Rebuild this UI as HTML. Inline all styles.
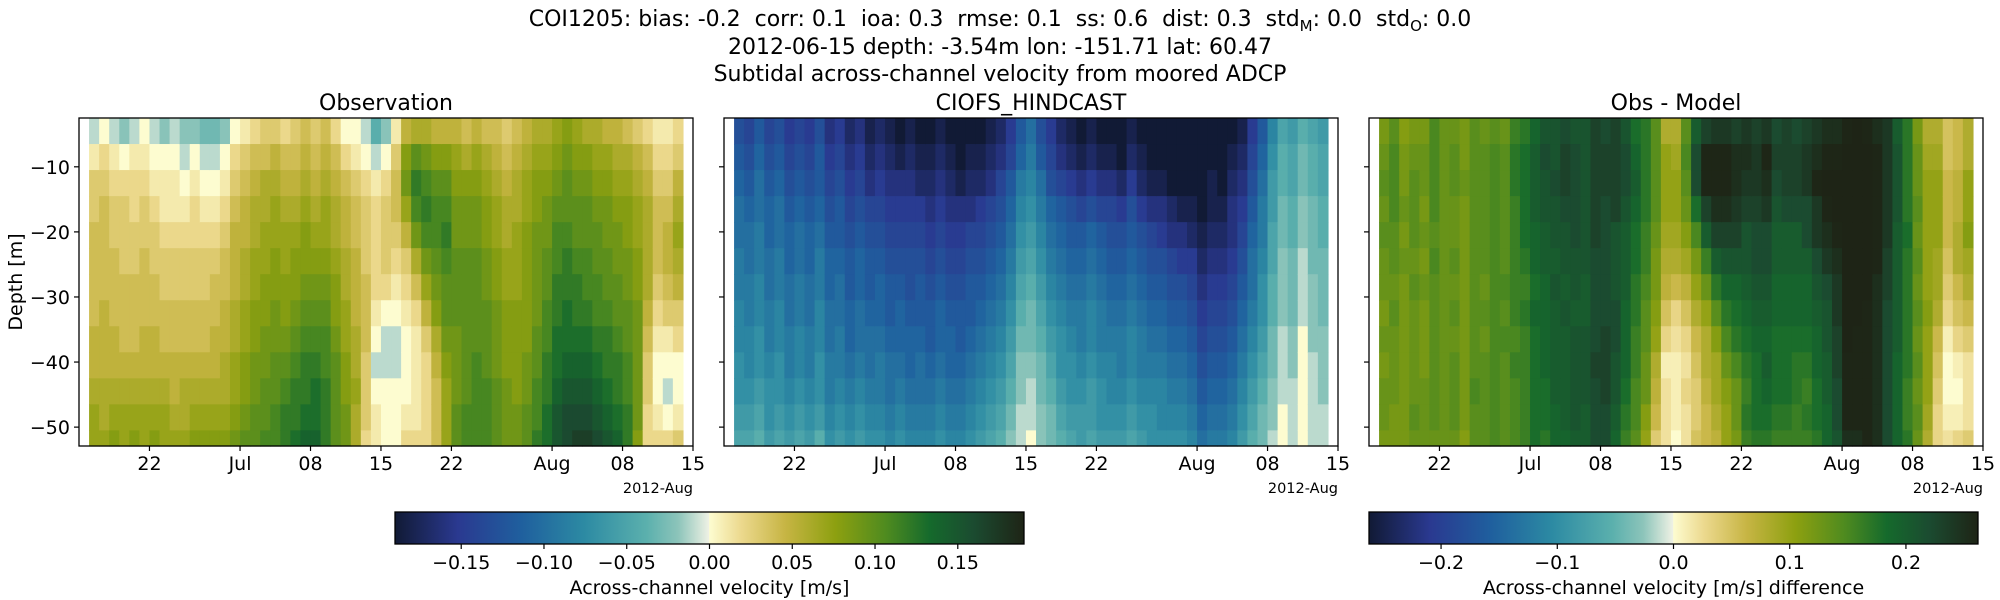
<!DOCTYPE html>
<html><head><meta charset="utf-8">
<style>
html,body{margin:0;padding:0;background:#fff;}
svg{display:block;font-family:"DejaVu Sans","Liberation Sans",sans-serif;}
</style></head>
<body>
<svg id="fig" width="2000" height="600" viewBox="0 0 2000 600" xmlns="http://www.w3.org/2000/svg">
<defs>
<linearGradient id="deltaGrad" x1="0" x2="1" y1="0" y2="0">
<stop offset="0" stop-color="#111a35"/><stop offset="0.1" stop-color="#2a3990"/><stop offset="0.2" stop-color="#1f5f9e"/><stop offset="0.3" stop-color="#2c8aa3"/><stop offset="0.4" stop-color="#5bb0ad"/><stop offset="0.45" stop-color="#8cc4ba"/><stop offset="0.499" stop-color="#eef1e4"/><stop offset="0.5" stop-color="#fdfcd0"/><stop offset="0.55" stop-color="#ecd98e"/><stop offset="0.62" stop-color="#c7b544"/><stop offset="0.7" stop-color="#8da010"/><stop offset="0.78" stop-color="#4f8b1f"/><stop offset="0.85" stop-color="#156a2c"/><stop offset="0.92" stop-color="#1b4b30"/><stop offset="1" stop-color="#1e2416"/>
</linearGradient>
</defs>
<g font-size="22" text-anchor="middle" fill="#000" style="white-space:pre">
<text x="1000" y="26" xml:space="preserve">COI1205: bias: -0.2  corr: 0.1  ioa: 0.3  rmse: 0.1  ss: 0.6  dist: 0.3  std<tspan font-size="15" dy="5">M</tspan><tspan dy="-5">: 0.0  std</tspan><tspan font-size="15" dy="5">O</tspan><tspan dy="-5">: 0.0</tspan></text>
<text x="1000" y="54">2012-06-15 depth: -3.54m lon: -151.71 lat: 60.47</text>
<text x="1000" y="81">Subtidal across-channel velocity from moored ADCP</text>
</g>
<g id="panels"></g>
<g id="cbars"></g>
</svg>
<script>
// day offsets from 2012-06-15 for each column (Jun16..Aug13)
const days = [];
for (let d = 1; d <= 59; d++) days.push(d);
const depthEdgesTop = [-2.5,-6.5,-10.5,-14.5,-18.5,-22.5,-26.5,-30.5,-34.5,-38.5,-42.5,-46.5,-50.5];
const depthBinSize = 4;
const yTicks = [-10,-20,-30,-40,-50];
const xTickDays = [7,16,23,30,37,47,54,61];
const xTickLabels = ["22","Jul","08","15","22","Aug","08","15"];
const cbar1Ticks = [-0.15,-0.10,-0.05,0.00,0.05,0.10,0.15];
const cbar2Ticks = [-0.2,-0.1,0.0,0.1,0.2];
// observation columns (cm/s, top to bottom)
const obsCols = [
[-1,1,3,3,4,4,4,4,5,5,6,7,7],[0,2,3,4,4,4,4,5,5,5,6,6,7],[-1,1,2,3,3,4,4,4,5,5,6,7,8],[-2,0,2,3,3,3,4,4,4,5,6,7,7],[-1,1,2,2,3,3,4,4,4,5,6,7,8],
[0,1,2,3,3,4,4,4,5,5,6,7,7],[-1,0,1,2,3,3,4,4,5,5,6,7,8],[-2,0,1,1,2,3,3,4,4,5,6,7,7],[-1,0,1,1,2,3,3,4,4,5,5,6,7],[-2,-1,0,1,2,3,3,4,4,5,6,6,7],
[-2,0,1,2,2,3,3,4,4,5,6,7,8],[-3,-1,0,1,2,3,3,4,4,5,6,7,8],[-3,-1,0,1,2,3,4,4,5,5,6,7,8],[-2,0,1,2,3,4,4,5,5,6,6,7,8],[0,2,3,4,5,5,5,6,6,7,7,8,9],
[1,3,4,5,5,6,6,7,7,8,8,9,10],[2,4,5,6,6,7,7,8,8,9,9,10,10],[3,4,6,6,7,7,8,8,9,9,10,10,11],[3,5,6,7,7,8,8,9,9,10,10,11,11],[2,4,5,6,7,7,8,8,9,10,11,12,12],
[3,4,5,6,7,8,8,9,10,11,12,12,13],[4,5,6,7,8,8,9,10,11,12,12,13,14],[3,4,5,6,7,8,9,10,11,12,13,13,14],[4,5,6,7,7,8,9,10,11,11,12,12,12],[2,4,5,6,6,7,8,8,9,10,10,10,10],
[0,2,4,5,5,6,6,7,7,8,8,9,9],[0,1,3,4,4,5,5,5,6,6,7,6,6],[-1,0,2,3,3,3,4,4,4,3,3,3,2],[-4,-1,1,2,2,2,2,1,0,-1,0,1,1],[-2,0,2,3,3,3,2,0,-1,-1,0,0,0],
[1,3,4,4,3,2,1,0,-1,-1,0,0,0],[5,8,9,7,5,3,2,1,0,0,0,1,2],[6,10,12,11,9,6,4,2,1,1,1,1,2],[6,9,11,12,11,9,7,5,3,2,2,2,2],[5,8,10,11,11,10,9,8,6,5,4,4,4],
[5,8,10,11,12,11,10,10,9,8,7,7,7],[5,7,8,9,9,10,10,10,9,9,9,10,10],[4,6,8,9,9,10,10,10,10,10,10,11,11],[5,7,8,9,9,10,10,10,10,11,11,11,11],[4,6,7,8,8,9,9,10,10,10,11,11,11],
[4,5,6,7,7,8,8,9,9,9,10,10,10],[3,4,5,6,6,7,7,8,8,8,9,9,9],[4,5,6,6,7,7,7,8,8,8,8,9,9],[5,6,7,7,8,8,8,8,8,9,9,10,10],[6,7,8,8,9,9,9,9,10,10,11,11,12],
[6,7,8,9,9,10,10,11,11,12,12,13,13],[7,8,9,10,11,11,12,12,13,13,14,15,15],[8,9,10,10,11,12,12,13,13,14,15,16,16],[7,8,9,10,10,11,12,12,13,14,15,16,17],[6,8,9,10,10,11,11,12,13,14,15,16,17],
[6,7,8,9,10,10,11,11,12,13,14,15,16],[5,7,8,9,9,10,10,11,12,12,13,14,15],[5,6,7,8,9,9,10,10,11,12,12,13,14],[4,6,7,8,8,9,9,10,10,11,11,12,12],[3,5,6,7,7,8,8,9,9,9,9,9,8],
[2,4,5,6,6,6,6,5,4,3,3,2,2],[1,2,3,4,4,4,3,2,1,0,0,1,2],[1,2,3,4,5,5,4,3,1,0,-1,0,2],[2,3,5,6,7,6,5,3,2,0,0,1,3]
];
// model columns (cm/s, top to bottom)
const modelCols = [
[-13,-12,-11,-10,-10,-9,-9,-8,-8,-7,-7,-6,-5],[-14,-13,-12,-11,-10,-10,-9,-9,-8,-8,-7,-6,-5],[-12,-11,-10,-10,-9,-9,-8,-8,-7,-7,-6,-5,-4],[-14,-13,-12,-11,-11,-10,-10,-9,-9,-8,-7,-7,-6],[-13,-12,-11,-10,-10,-9,-9,-8,-8,-7,-7,-6,-5],
[-15,-14,-13,-12,-11,-11,-10,-10,-9,-9,-8,-7,-6],[-14,-13,-12,-11,-10,-10,-9,-9,-8,-8,-7,-6,-5],[-15,-14,-13,-12,-11,-11,-10,-10,-9,-9,-8,-7,-6],[-13,-12,-12,-11,-10,-9,-9,-8,-8,-7,-7,-6,-4],[-16,-15,-14,-13,-12,-11,-11,-10,-10,-9,-9,-8,-7],
[-15,-14,-13,-12,-12,-11,-10,-10,-9,-9,-8,-7,-6],[-17,-16,-15,-14,-13,-12,-12,-11,-11,-10,-9,-8,-7],[-16,-15,-14,-13,-12,-11,-11,-10,-10,-9,-8,-7,-6],[-18,-17,-16,-14,-13,-12,-12,-11,-10,-10,-9,-8,-7],[-17,-16,-15,-14,-13,-12,-11,-11,-10,-9,-9,-8,-7],
[-18,-17,-16,-15,-14,-13,-12,-12,-11,-10,-10,-9,-8],[-19,-18,-16,-15,-14,-13,-12,-11,-11,-10,-9,-8,-7],[-18,-17,-16,-15,-14,-13,-13,-12,-11,-11,-10,-9,-8],[-19,-18,-17,-15,-14,-13,-12,-12,-11,-10,-10,-9,-8],[-19,-18,-17,-16,-15,-14,-13,-12,-12,-11,-10,-9,-8],
[-18,-17,-16,-15,-14,-13,-12,-11,-11,-10,-9,-8,-7],[-19,-18,-17,-16,-15,-14,-13,-12,-11,-11,-10,-9,-8],[-19,-19,-18,-16,-15,-14,-13,-12,-12,-11,-10,-9,-8],[-19,-18,-17,-16,-14,-13,-12,-12,-11,-10,-9,-8,-7],[-19,-18,-17,-15,-14,-13,-12,-11,-10,-9,-8,-7,-6],
[-18,-17,-16,-14,-13,-12,-11,-10,-9,-8,-7,-6,-5],[-17,-16,-14,-13,-12,-11,-10,-9,-8,-7,-6,-5,-4],[-15,-14,-12,-11,-10,-9,-8,-7,-6,-5,-4,-3,-2],[-12,-11,-9,-8,-7,-6,-5,-4,-3,-2,-2,-1,-1],[-10,-9,-8,-7,-6,-5,-4,-3,-3,-2,-1,-1,0],
[-13,-12,-10,-9,-8,-7,-6,-5,-4,-3,-3,-2,-2],[-15,-14,-13,-11,-10,-9,-8,-7,-6,-5,-4,-3,-3],[-17,-16,-14,-12,-11,-10,-9,-8,-7,-7,-6,-5,-4],[-18,-17,-15,-13,-12,-11,-10,-9,-8,-7,-7,-6,-5],[-19,-18,-16,-14,-12,-11,-10,-9,-9,-8,-7,-6,-6],
[-18,-17,-15,-13,-11,-10,-9,-8,-8,-7,-6,-6,-5],[-19,-18,-16,-14,-12,-11,-10,-9,-9,-8,-7,-7,-6],[-19,-18,-16,-14,-13,-12,-11,-10,-9,-8,-8,-7,-6],[-19,-19,-17,-15,-13,-12,-11,-10,-9,-9,-8,-7,-6],[-18,-17,-15,-13,-12,-11,-10,-9,-8,-8,-7,-6,-5],
[-19,-18,-17,-15,-13,-12,-11,-10,-9,-9,-8,-7,-6],[-19,-19,-18,-16,-14,-13,-12,-11,-10,-9,-8,-7,-7],[-19,-19,-18,-16,-15,-13,-12,-11,-10,-9,-8,-8,-7],[-19,-19,-19,-17,-16,-14,-13,-12,-11,-10,-9,-8,-7],[-19,-19,-19,-18,-16,-15,-13,-12,-11,-10,-9,-8,-7],
[-19,-19,-19,-18,-17,-15,-14,-13,-12,-11,-10,-9,-8],[-19,-19,-19,-19,-18,-17,-16,-15,-14,-13,-12,-11,-10],[-19,-19,-18,-18,-17,-16,-15,-14,-13,-12,-11,-10,-9],[-19,-19,-19,-18,-17,-16,-15,-14,-13,-12,-11,-10,-9],[-19,-18,-17,-16,-16,-15,-14,-13,-12,-11,-10,-9,-8],
[-18,-17,-16,-15,-14,-13,-12,-11,-10,-9,-8,-7,-6],[-15,-14,-13,-12,-11,-10,-10,-9,-8,-7,-6,-5,-4],[-12,-11,-10,-9,-9,-8,-7,-7,-6,-5,-4,-3,-3],[-8,-7,-6,-6,-5,-5,-4,-4,-3,-3,-2,-2,-1],[-5,-4,-4,-3,-3,-2,-2,-2,-1,-1,-1,0,0],
[-6,-5,-5,-4,-4,-3,-3,-3,-2,-2,-1,-1,-1],[-4,-3,-3,-2,-2,-1,-1,-1,0,0,0,0,0],[-5,-4,-4,-3,-3,-3,-2,-2,-2,-1,-1,-1,-1],[-6,-5,-5,-4,-4,-3,-3,-3,-2,-2,-2,-1,-1]
];

const NS = "http://www.w3.org/2000/svg";
const stops = [[0,"#111a35"],[0.1,"#2a3990"],[0.2,"#1f5f9e"],[0.3,"#2c8aa3"],[0.4,"#5bb0ad"],[0.45,"#8cc4ba"],[0.499,"#eef1e4"],[0.5,"#fdfcd0"],[0.55,"#ecd98e"],[0.62,"#c7b544"],[0.7,"#8da010"],[0.78,"#4f8b1f"],[0.85,"#156a2c"],[0.92,"#1b4b30"],[1,"#1e2416"]];
function hex(h){return [parseInt(h.substr(1,2),16),parseInt(h.substr(3,2),16),parseInt(h.substr(5,2),16)];}
function cmap(t){
  t=Math.max(0,Math.min(1,t));
  for(let i=1;i<stops.length;i++){
    if(t<=stops[i][0]){
      const a=stops[i-1],b=stops[i];const f=(t-a[0])/(b[0]-a[0]);
      const ca=hex(a[1]),cb=hex(b[1]);
      return "rgb("+ca.map((v,k)=>Math.round(v+(cb[k]-v)*f)).join(",")+")";
    }
  }
  return stops[stops.length-1][1];
}
function mk(tag,attrs,parent){const e=document.createElementNS(NS,tag);for(const k in attrs)e.setAttribute(k,attrs[k]);parent.appendChild(e);return e;}

const panelTop=118, panelBot=446, panelW=614;
const yMaxDepth=-2.5, yMinDepth=-52.9;
const xDayMin=0, xDayMax=61;
function yScale(d){return panelTop+(yMaxDepth-d)/(yMaxDepth-yMinDepth)*(panelBot-panelTop);}
const panelsG=document.getElementById('panels');
const panelDefs=[
 {x:79,title:"Observation",name:"observation",vmax:0.19,labels:true},
 {x:724,title:"CIOFS_HINDCAST",name:"model",vmax:0.19,labels:false},
 {x:1369,title:"Obs - Model",name:"difference",vmax:0.262,labels:false}
];
panelDefs.forEach((p,pi)=>{
  const g=mk('g',{},panelsG);
  
  
  const xs=d=>p.x+(d-xDayMin)/(xDayMax-xDayMin)*panelW;
  const cells=mk('g',{},g);
  
  
  days.forEach((day,ci)=>{
    depthEdgesTop.forEach((dt,ri)=>{
      let v;
      if(pi===0) v=obsCols[ci][ri]/100;
      else if(pi===1) v=modelCols[ci][ri]/100;
      else v=(obsCols[ci][ri]-modelCols[ci][ri])/100;
      const y0=yScale(dt), y1=Math.min(panelBot,yScale(dt-depthBinSize));
      const x0=xs(day), x1=xs(day+1);
      const r=mk('rect',{x:x0.toFixed(2),y:y0.toFixed(2),width:(x1-x0+0.6).toFixed(2),height:(y1-y0+0.6).toFixed(2),fill:cmap(0.5+v/(2*p.vmax))},cells);
      
      
    });
  });
  const fr=mk('rect',{x:p.x,y:panelTop,width:panelW,height:panelBot-panelTop,fill:"none",stroke:"#000","stroke-width":1.3},g);
  
  
  const t=mk('text',{x:p.x+panelW/2,y:110,"font-size":22,"text-anchor":"middle"},g);
  t.textContent=p.title;
  
  
  yTicks.forEach(v=>{
    const y=yScale(v);
    mk('line',{x1:p.x-5,x2:p.x,y1:y,y2:y,stroke:"#000","stroke-width":1.2},g);
    if(p.labels){
      const tl=mk('text',{x:p.x-9,y:y+7,"font-size":19,"text-anchor":"end"},g);
      tl.textContent="\u2212"+Math.abs(v);
      
      
    }
  });
  xTickDays.forEach((d,i)=>{
    const x=xs(d);
    mk('line',{x1:x,x2:x,y1:panelBot,y2:panelBot+5,stroke:"#000","stroke-width":1.2},g);
    const tl=mk('text',{x:x,y:470,"font-size":19,"text-anchor":"middle"},g);
    tl.textContent=xTickLabels[i];
    
    
  });
  const off=mk('text',{x:p.x+panelW,y:493,"font-size":14.5,"text-anchor":"end"},g);
  off.textContent="2012-Aug";
  
  
});
const yl=mk('text',{x:0,y:0,"font-size":19,"text-anchor":"middle",transform:"translate(22,282) rotate(-90)"},panelsG);
yl.textContent="Depth [m]";



const cbG=document.getElementById('cbars');
[{x:395,w:629,vmax:0.19,ticks:cbar1Ticks,dec:2,label:"Across-channel velocity [m/s]",name:"velocity-colorbar"},
 {x:1369,w:609,vmax:0.262,ticks:cbar2Ticks,dec:1,label:"Across-channel velocity [m/s] difference",name:"difference-colorbar"}].forEach(c=>{
  const g=mk('g',{},cbG);
  
  
  mk('rect',{x:c.x,y:512,width:c.w,height:32,fill:"url(#deltaGrad)",stroke:"#000","stroke-width":1.3},g);
  c.ticks.forEach(v=>{
    const x=c.x+c.w/2+v/c.vmax*c.w/2;
    mk('line',{x1:x,x2:x,y1:544,y2:549,stroke:"#000","stroke-width":1.2},g);
    const tl=mk('text',{x:x,y:569,"font-size":19,"text-anchor":"middle"},g);
    tl.textContent=(v<0?"\u2212":"")+Math.abs(v).toFixed(c.dec);
    
    
  });
  const lb=mk('text',{x:c.x+c.w/2,y:594,"font-size":19,"text-anchor":"middle"},g);
  lb.textContent=c.label;
  
  
});
</script>
</body></html>
